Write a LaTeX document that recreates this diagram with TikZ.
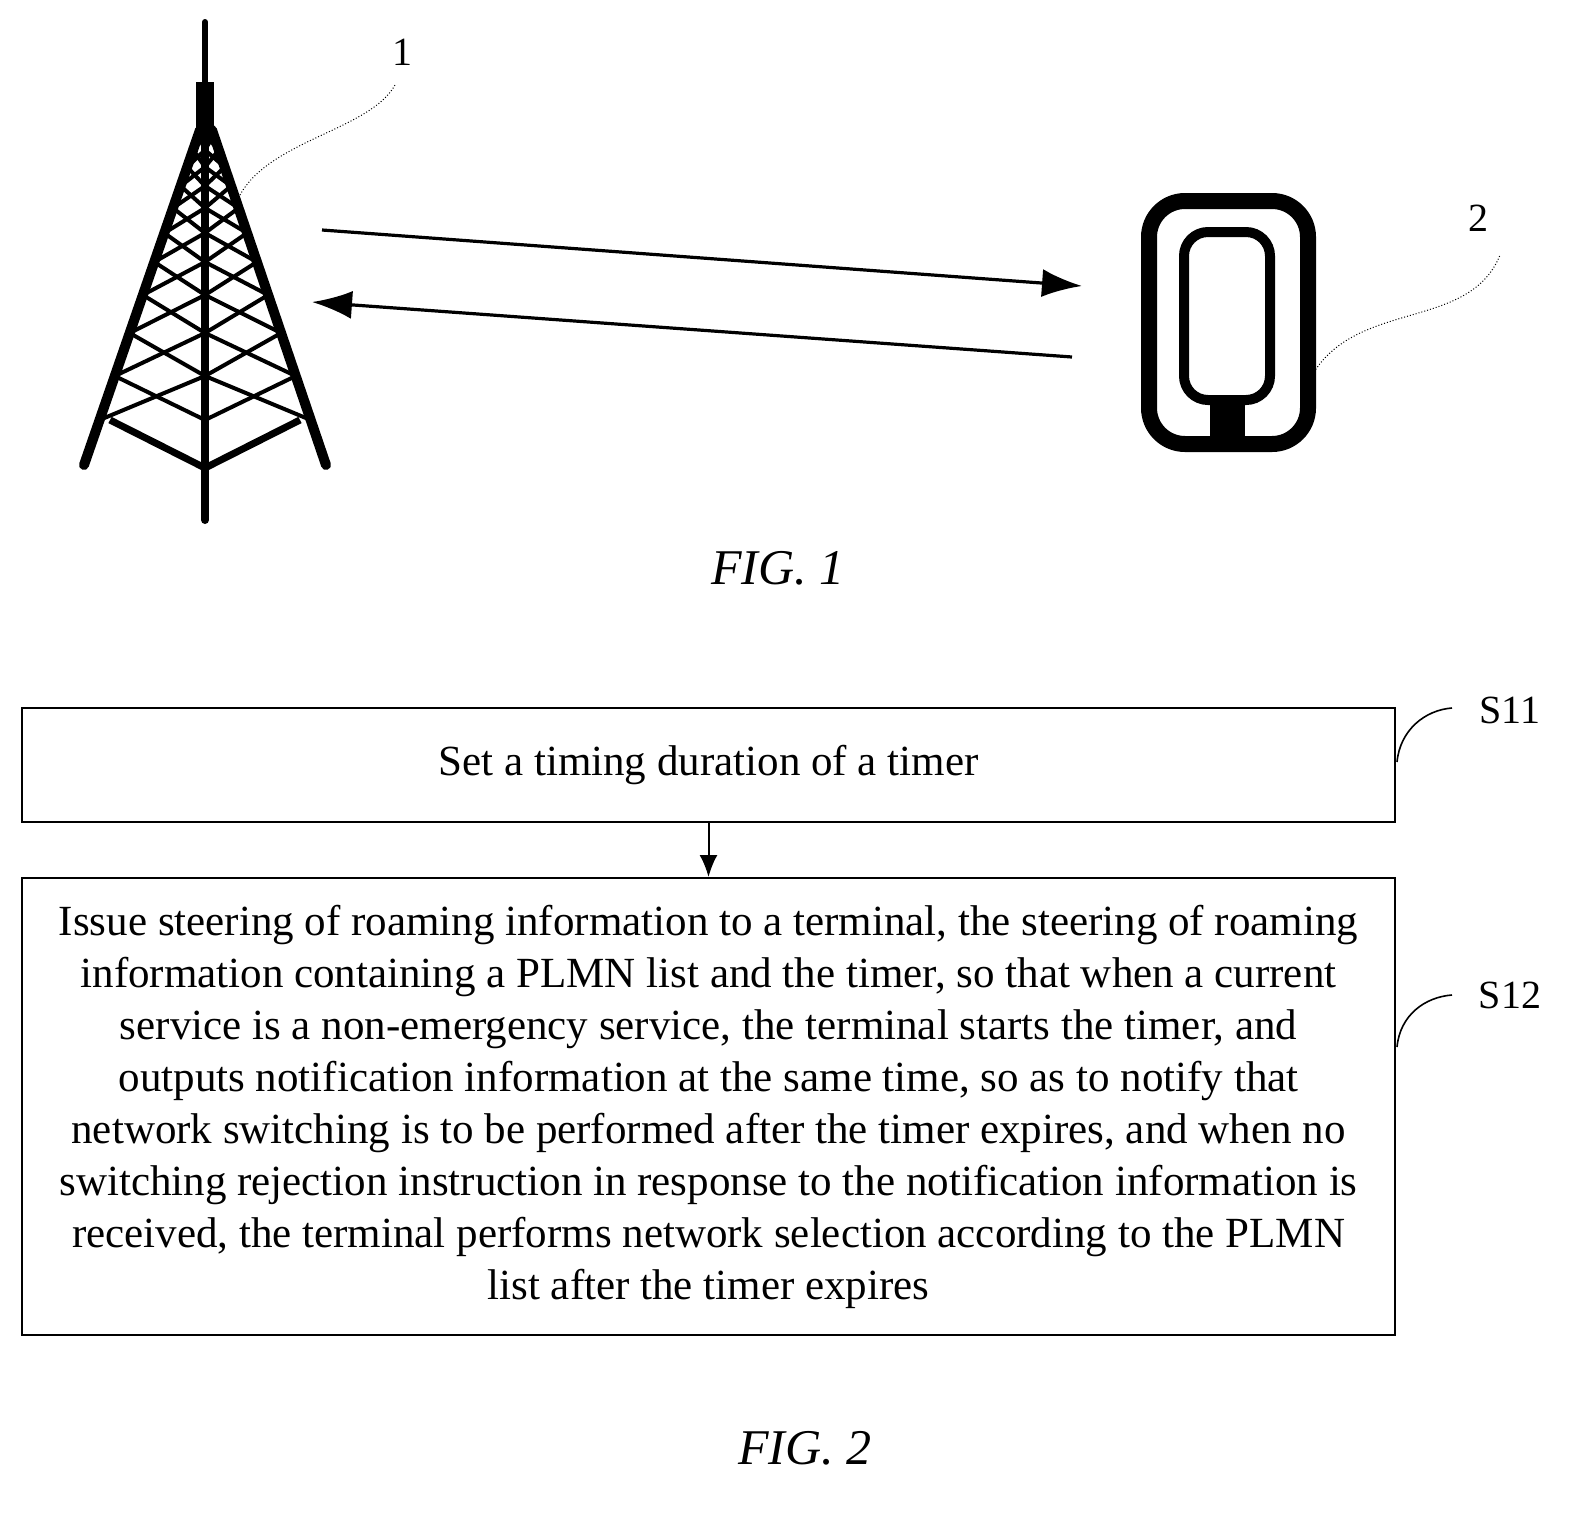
\documentclass[tikz,border=0pt]{standalone}
\usepackage{fontspec}
\usetikzlibrary{arrows.meta}
\setmainfont{Liberation Serif}
\begin{document}
\begin{tikzpicture}[x=0.5pt,y=-0.5pt,
  box/.style={draw,line width=1pt,inner sep=0pt},
  lbl/.style={font=\fontsize{20}{22}\selectfont},
  lead/.style={line width=0.5pt,densely dotted},
  fig/.style={font=\itshape\fontsize{25}{28}\selectfont},
  sig/.style={line width=1.6pt,-{Latex[length=20pt,width=14pt]}}]
\useasboundingbox (0,0) rectangle (1594,1515);
% tower
\draw[line width=3pt,line cap=round] (205,22) -- (205,90);
\fill (196,82) rectangle (214,130);
\draw[line width=5pt,line cap=round] (200,130) -- (84,465);
\draw[line width=5pt,line cap=round] (212,130) -- (326,465);
\draw[line width=4pt,line cap=round] (205,125) -- (205,520);
\draw[line width=3.5pt] (110,420) -- (205,468) -- (300,420);
\foreach \ya/\yb in {135/150,150/167,167/186,186/208,208/233,233/262,262/295,295/333,333/376,376/420}{
  \pgfmathsetmacro{\la}{200-(\ya-130)*0.3463}
  \pgfmathsetmacro{\lb}{200-(\yb-130)*0.3463}
  \pgfmathsetmacro{\ra}{212+(\ya-130)*0.3403}
  \pgfmathsetmacro{\rb}{212+(\yb-130)*0.3403}
  \draw[line width=2pt] (\la,\ya) -- (205,\yb);
  \draw[line width=2pt] (\lb,\yb) -- (205,\ya);
  \draw[line width=2pt] (\ra,\ya) -- (205,\yb);
  \draw[line width=2pt] (\rb,\yb) -- (205,\ya);
}
\node[lbl] (n1) at (402,52) {1};
\coordinate (t1) at (240,195);
\draw[lead] (t1) .. controls (270,140) and (370,130) .. (395,85);
% phone
\draw[line width=8pt,rounded corners=18pt] (1149,201) rectangle (1308,444);
\draw[line width=5pt,rounded corners=12pt] (1184,232) rectangle (1270,400);
\fill (1210,402) rectangle (1245,441);
\node[lbl] (n2) at (1478,218) {2};
\coordinate (t2) at (1314,372);
\draw[lead] (t2) .. controls (1360,300) and (1470,330) .. (1500,255);
% signals
\coordinate (a1) at (322,230); \coordinate (a2) at (1082,286);
\coordinate (b1) at (1072,357); \coordinate (b2) at (312,302);
\draw[sig] (a1) -- (a2);
\draw[sig] (b1) -- (b2);
\node[fig] (f1) at (778,568) {FIG. 1};
% flow
\node[box,minimum width=686.5pt,minimum height=57pt,font=\fontsize{21.5}{26}\selectfont] (s11) at (708.5,765) {Set a timing duration of a timer};
\node[box,minimum width=686.5pt,minimum height=228.5pt,align=center,font=\fontsize{21.5}{26}\selectfont] (s12) at (708.5,1106.5) {Issue steering of roaming information to a terminal, the steering of roaming\\information containing a PLMN list and the timer, so that when a current\\service is a non-emergency service, the terminal starts the timer, and\\outputs notification information at the same time, so as to notify that\\network switching is to be performed after the timer expires, and when no\\switching rejection instruction in response to the notification information is\\received, the terminal performs network selection according to the PLMN\\list after the timer expires};
\draw[line width=1pt,-{Latex[length=11pt,width=9pt]}] (s11.south) -- (s12.north);
\node[lbl] (l11) at (1510,710) {S11};
\node[lbl] (l12) at (1510,995) {S12};
\draw[line width=0.8pt] (1397,762) .. controls (1400,730) and (1425,710) .. (1452,708);
\draw[line width=0.8pt] (1397,1047) .. controls (1400,1015) and (1425,997) .. (1452,995);
\node[fig] (f2) at (805,1448) {FIG. 2};
\end{tikzpicture}
\end{document}
